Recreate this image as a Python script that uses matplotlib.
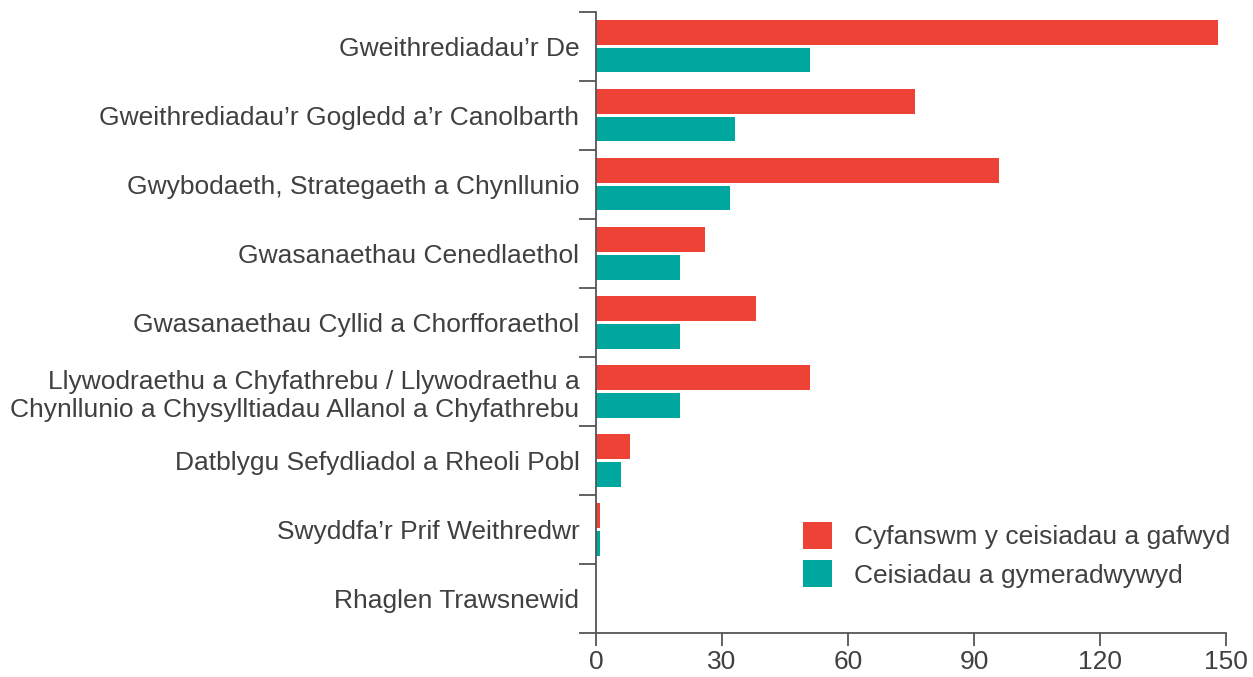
import numpy as np
import matplotlib
matplotlib.use("Agg")
import matplotlib.pyplot as plt

plt.rcParams['font.family'] = ['Liberation Sans', 'DejaVu Sans']

# categories, top to bottom
categories = [
    "Gweithrediadau\u2019r De",
    "Gweithrediadau\u2019r Gogledd a\u2019r Canolbarth",
    "Gwybodaeth, Strategaeth a Chynllunio",
    "Gwasanaethau Cenedlaethol",
    "Gwasanaethau Cyllid a Chorfforaethol",
    "Llywodraethu a Chyfathrebu / Llywodraethu a\nChynllunio a Chysylltiadau Allanol a Chyfathrebu",
    "Datblygu Sefydliadol a Rheoli Pobl",
    "Swyddfa\u2019r Prif Weithredwr",
    "Rhaglen Trawsnewid",
]
received = [148, 76, 96, 26, 38, 51, 8, 1, 0]
approved = [51, 33, 32, 20, 20, 20, 6, 1, 0]
series_names = ["Cyfanswm y ceisiadau a gafwyd", "Ceisiadau a gymeradwywyd"]
xticks = [0, 30, 60, 90, 120, 150]

red = "#EF4237"
teal = "#00A79E"
grey = "#404040"
axcol = "#555555"
fs = 19

fig = plt.figure(figsize=(12.53, 6.77), dpi=100)
ax = fig.add_axes([0.4757, 0.065, 0.5028, 0.9173])

y = np.arange(len(categories))
h = 0.362
off = 0.196
ax.barh(y - off, received, height=h, color=red, label=series_names[0])
ax.barh(y + off, approved, height=h, color=teal, label=series_names[1])

ax.set_ylim(len(categories) - 0.5, -0.5)
ax.set_xlim(0, 150)
ax.set_xticks(xticks)
ax.set_yticks(y)
ax.set_yticklabels(categories)
ax.set_yticks(np.arange(-0.5, len(categories)), minor=True)

for s in ["top", "right"]:
    ax.spines[s].set_visible(False)
for s in ["left", "bottom"]:
    ax.spines[s].set_color(axcol)
    ax.spines[s].set_linewidth(1.3)

ax.tick_params(axis="y", which="major", length=0, pad=12, labelsize=fs, labelcolor=grey)
ax.tick_params(axis="y", which="minor", length=12, width=1.3, color=axcol)
ax.tick_params(axis="x", length=9, width=1.3, color=axcol, labelsize=fs, labelcolor=grey, pad=3)
for lbl in ax.get_yticklabels():
    lbl.set_horizontalalignment("right")
    lbl.set_multialignment("right")

leg = ax.legend(loc="lower right", bbox_to_anchor=(1.045, 0.035), frameon=False,
                fontsize=fs, handlelength=1.1, handleheight=1.15, handletextpad=0.85,
                labelspacing=0.42, labelcolor=grey)

fig.savefig("out.png", dpi=100)
